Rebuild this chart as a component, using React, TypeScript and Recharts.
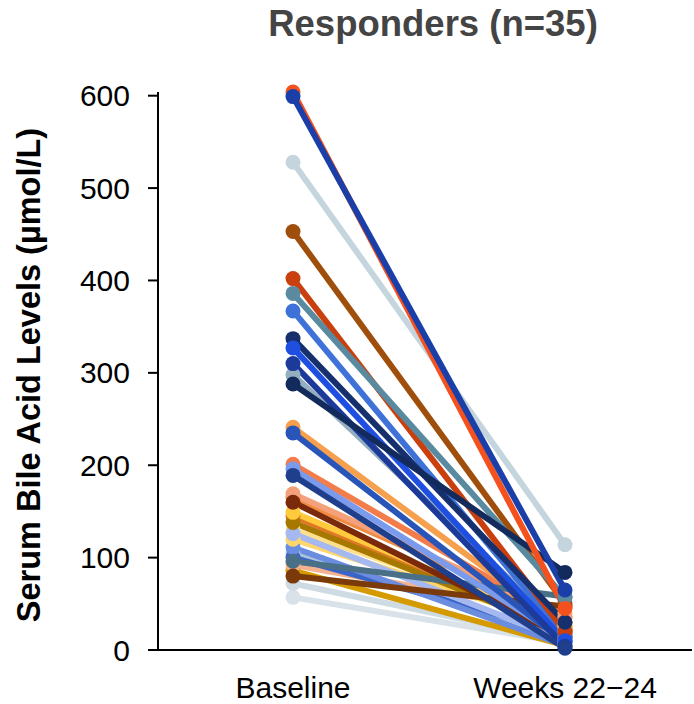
import { Line, LineChart, XAxis, YAxis, Label } from 'recharts';

const timepoints = ['Baseline', 'Weeks 22\u221224'];

const patientIds = [
  'P01', 'P02', 'P03', 'P04', 'P05', 'P06', 'P07', 'P08', 'P09', 'P10',
  'P11', 'P12', 'P13', 'P14', 'P15', 'P16', 'P17', 'P18', 'P19', 'P20',
  'P21', 'P22', 'P23', 'P24', 'P25', 'P26', 'P27', 'P28', 'P29', 'P30',
  'P31', 'P32', 'P33', 'P34', 'P35',
];

const baselineValues = [
  57, 72, 105, 86, 92, 130, 145, 165, 100, 111,
  120, 126, 138, 149, 169, 201, 96, 80, 160, 241,
  196, 235, 298, 367, 402, 453, 386, 337, 327, 310,
  288, 528, 604, 599, 189,
];

const weekValues = [
  8, 10, 15, 5, 40, 30, 22, 35, 18, 5,
  26, 10, 20, 26, 36, 30, 58, 47, 14, 25,
  12, 8, 20, 15, 20, 50, 57, 30, 10, 4,
  84, 114, 45, 65, 2,
];

const lineColors = [
  '#d8e2e8', '#cfdbe3', '#a9c4da', '#d49a00', '#f6b28e', '#ffe08a', '#e07828', '#f08a3e', '#3b64c8', '#6a8de0',
  '#ffd66b', '#a5b8f0', '#a67800', '#ffcb3d', '#f4a07a', '#f27c4a', '#4a7088', '#7a3a0a', '#7a2a0a', '#f6a04d',
  '#7a9aeb', '#2a55b8', '#94afc0', '#3f72d8', '#c9400e', '#a04e0b', '#5a8aa0', '#16306e', '#1e4fe0', '#1c3a9a',
  '#132a5c', '#c5d5de', '#f4511e', '#1a3fa8', '#1f3f8c',
];

const yTicks = [0, 100, 200, 300, 400, 500, 600];

const chartData = timepoints.map((t, i) => {
  const row: Record<string, string | number> = { time: t };
  patientIds.forEach((id, j) => {
    row[id] = i === 0 ? baselineValues[j] : weekValues[j];
  });
  return row;
});

const YLabel = () => (
  <text
    x={40}
    y={375}
    transform="rotate(-90, 40, 375)"
    textAnchor="middle"
    fontSize={32.5}
    fontWeight="bold"
    fill="#000"
    fontFamily="'Liberation Sans', Arial, sans-serif"
  >
    Serum Bile Acid Levels (µmol/L)
  </text>
);

export default function App() {
  return (
    <div style={{ position: 'absolute', left: 0, top: 0, width: 694, height: 704, background: '#fff', fontFamily: "'Liberation Sans', Arial, sans-serif" }}>
      <div
        style={{
          position: 'absolute',
          left: 233,
          width: 400,
          top: 6,
          textAlign: 'center',
          fontSize: 36.5,
          lineHeight: 1,
          fontWeight: 'bold',
          color: '#444',
        }}
      >
        Responders (n=35)
      </div>
      <LineChart
        width={694}
        height={704}
        data={chartData}
        margin={{ top: 92, right: 2, bottom: 0, left: 0 }}
      >
        <XAxis
          dataKey="time"
          padding={{ left: 135, right: 127 }}
          height={54}
          tickSize={0}
          tickMargin={27}
          tick={{ fontSize: 30, fill: '#000' }}
          axisLine={{ stroke: '#000', strokeWidth: 2 }}
        />
        <YAxis
          width={158}
          domain={[0, 600]}
          ticks={yTicks}
          tickSize={10}
          tickMargin={18}
          tick={{ fontSize: 30, fill: '#000' }}
          axisLine={{ stroke: '#000', strokeWidth: 2 }}
          tickLine={{ stroke: '#000', strokeWidth: 2 }}
        >
          <Label content={() => <YLabel />} />
        </YAxis>
        {patientIds.map((id, j) => (
          <Line
            key={id}
            dataKey={id}
            stroke={lineColors[j]}
            strokeWidth={6}
            dot={{ r: 7.5, fill: lineColors[j], stroke: 'none' }}
            activeDot={false}
            isAnimationActive={false}
          />
        ))}
      </LineChart>
    </div>
  );
}
